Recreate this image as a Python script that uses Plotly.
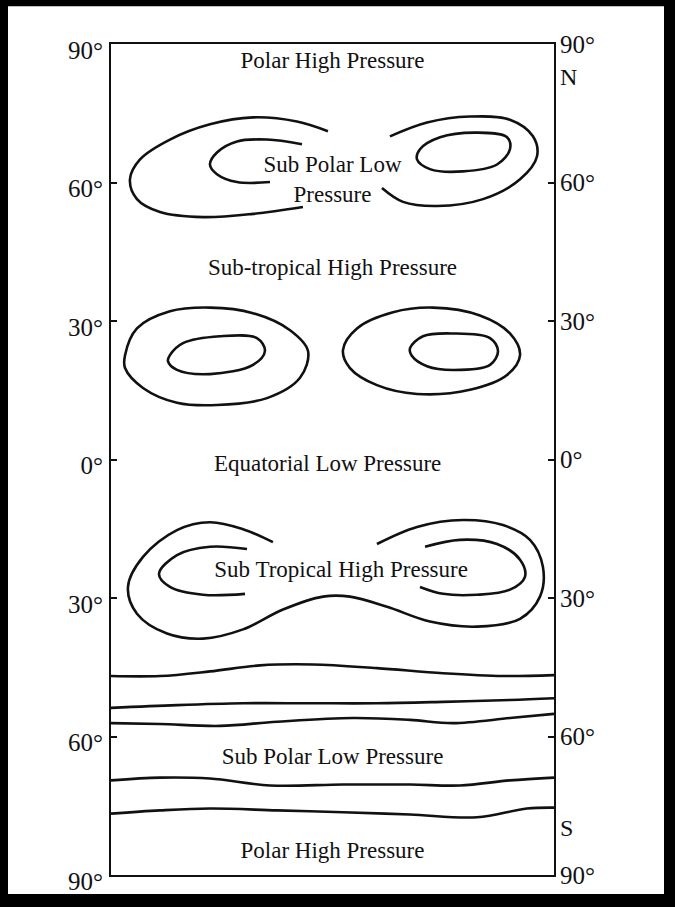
import plotly.graph_objects as go

# ---------------- data ----------------
lat_ticks = [90, 60, 30, 0, -30, -60, -90]
lat_tick_text = ["90°", "60°", "30°", "0°", "30°", "60°", "90°"]

hemi_labels = ["N", "S"]
hemi_lat = [82.9, -79.9]

zone_names = ["Polar High Pressure", "Sub Polar Low<br>Pressure", "Sub-tropical High Pressure",
              "Equatorial Low Pressure", "Sub Tropical High Pressure", "Sub Polar Low Pressure",
              "Polar High Pressure"]
zone_lon = [0, 0, 0, -4, 7, 0, 0]
zone_lat = [86.1, 60.3, 41.3, -1.3, -24.3, -64.8, -85.0]

# Northern sub-polar low isobars
np_left_outer_lon = [-3.7, -28.9, -64.6, -99.6, -132.1, -156.4, -164.6, -158.9, -140.2, -105.2, -64.6, -24.0]
np_left_outer_lat = [71.1, 73.2, 74.1, 72.6, 69.3, 65.0, 60.7, 56.4, 53.6, 52.5, 53.2, 54.7]
np_left_inner_lon = [-24.8, -53.2, -77.6, -93.9, -99.6, -93.9, -77.6, -50.8]
np_left_inner_lat = [68.3, 69.3, 68.9, 66.5, 63.9, 61.8, 60.1, 60.1]
np_right_outer_lon = [46.7, 76.8, 111.7, 144.2, 162.9, 166.2, 152.4, 122.3, 84.9, 57.3, 40.2]
np_right_outer_lat = [70.0, 73.0, 74.3, 73.6, 70.0, 65.7, 60.7, 56.4, 54.9, 55.8, 58.8]
np_right_inner_lon = [71.1, 87.4, 117.4, 141.8, 144.2, 133.7, 106.0, 79.2, 68.7, 71.1]
np_right_inner_lat = [67.2, 69.8, 70.8, 69.8, 67.2, 63.9, 62.4, 62.9, 65.0, 67.2]

# Northern sub-tropical high isobars
nt_left_outer_lon = [-168.6, -158.9, -132.1, -99.6, -64.6, -34.5, -19.9, -26.4, -53.2, -93.9, -126.4, -154.0, -168.6, -168.6]
nt_left_outer_lat = [22.6, 28.4, 32.1, 32.9, 31.7, 28.0, 23.5, 17.7, 13.3, 11.8, 12.3, 15.5, 19.8, 22.6]
nt_left_inner_lon = [-132.1, -121.5, -91.4, -61.4, -54.9, -64.6, -99.6, -126.4, -133.7, -132.1]
nt_left_inner_lat = [22.6, 25.2, 26.7, 26.3, 23.5, 20.5, 18.5, 19.4, 21.3, 22.6]
nt_right_outer_lon = [8.5, 19.9, 49.2, 81.7, 119.8, 144.2, 152.4, 141.8, 111.7, 68.7, 36.1, 14.2, 8.5]
nt_right_outer_lat = [23.7, 28.4, 31.9, 32.9, 31.2, 27.3, 22.6, 18.3, 15.1, 14.2, 16.1, 19.8, 23.7]
nt_right_inner_lon = [63.0, 73.5, 97.9, 128.0, 134.5, 128.0, 97.9, 76.8, 64.6, 63.0]
nt_right_inner_lat = [24.1, 26.7, 27.3, 26.3, 23.5, 20.5, 19.4, 20.2, 22.4, 24.1]

# Southern sub-tropical high isobars
st_outer_lon = [-48.4, -72.7, -99.6, -126.4, -154.0, -166.2, -158.9, -134.5, -105.2, -72.7, -40.2, -7.7,
                14.2, 44.3, 79.2, 117.4, 152.4, 168.6, 171.0, 160.5, 138.5, 106.0, 68.7, 36.1]
st_outer_lat = [-17.9, -15.1, -13.6, -15.3, -21.1, -27.6, -33.4, -37.7, -38.8, -36.8, -32.5, -29.7,
                -29.7, -31.9, -35.1, -36.2, -34.5, -29.7, -23.3, -17.4, -14.2, -13.1, -14.6, -18.3]
st_left_inner_lon = [-69.5, -99.6, -126.4, -141.0, -132.1, -105.2, -71.1]
st_left_inner_lat = [-19.4, -18.9, -20.7, -24.8, -27.6, -29.3, -29.1]
st_right_inner_lon = [75.2, 103.6, 133.7, 152.4, 156.4, 144.2, 117.4, 89.8, 71.1]
st_right_inner_lat = [-18.9, -17.4, -18.3, -21.7, -25.4, -28.2, -29.3, -29.1, -27.6]

# Southern belt isobars (continuous lines)
sa_lon = [-180, -140.2, -99.6, -58.9, -15.9, 36.1, 89.8, 138.5, 180]
sa_lat = [-46.9, -46.9, -45.9, -44.6, -44.4, -45.2, -46.3, -46.9, -46.7]
sb_lon = [-180, -126.4, -72.7, -18.3, 36.1, 89.8, 144.2, 180]
sb_lat = [-53.8, -53.2, -52.8, -52.8, -52.8, -52.5, -52.1, -51.7]
sc_lon = [-180, -140.2, -91.4, -45.1, 16.6, 63.0, 97.9, 144.2, 180]
sc_lat = [-57.1, -57.3, -57.7, -56.8, -56.0, -56.4, -57.1, -56.0, -55.1]
sd_lon = [-180, -140.2, -99.6, -50.8, 8.5, 63.0, 103.6, 144.2, 180]
sd_lat = [-69.5, -68.9, -69.1, -70.6, -70.4, -70.4, -70.6, -69.5, -68.9]
se_lon = [-180, -140.2, -99.6, -45.1, 8.5, 63.0, 117.4, 158.0, 180]
se_lat = [-76.7, -76.0, -75.6, -76.0, -76.4, -76.9, -77.5, -75.6, -75.4]

curves = [
    (np_left_outer_lon, np_left_outer_lat), (np_left_inner_lon, np_left_inner_lat),
    (np_right_outer_lon, np_right_outer_lat), (np_right_inner_lon, np_right_inner_lat),
    (nt_left_outer_lon, nt_left_outer_lat), (nt_left_inner_lon, nt_left_inner_lat),
    (nt_right_outer_lon, nt_right_outer_lat), (nt_right_inner_lon, nt_right_inner_lat),
    (st_outer_lon, st_outer_lat), (st_left_inner_lon, st_left_inner_lat),
    (st_right_inner_lon, st_right_inner_lat),
    (sa_lon, sa_lat), (sb_lon, sb_lat), (sc_lon, sc_lat), (sd_lon, sd_lat), (se_lon, se_lat),
]

# ---------------- figure ----------------
INK = "#111111"
FONT = "Liberation Serif"

fig = go.Figure()
for lon, lat in curves:
    fig.add_trace(go.Scatter(x=lon, y=lat, mode="lines",
                             line=dict(color=INK, width=2.6, shape="spline", smoothing=1.0),
                             hoverinfo="skip", showlegend=False))

fig.add_trace(go.Scatter(x=zone_lon, y=zone_lat, mode="text", text=zone_names,
                         textfont=dict(family=FONT, size=23, color=INK),
                         hoverinfo="skip", showlegend=False))

# invisible trace to activate the right-hand latitude axis
fig.add_trace(go.Scatter(x=[0], y=[0], yaxis="y2", mode="markers",
                         marker=dict(opacity=0), hoverinfo="skip", showlegend=False))

for name, la in zip(hemi_labels, hemi_lat):
    fig.add_annotation(text=name, x=1.0, xref="paper", y=la, yref="y",
                       xanchor="left", xshift=4, showarrow=False,
                       font=dict(family=FONT, size=24, color=INK))

W, H = 675, 907
L, R, T, B = 111, 121, 44, 27
pw, ph = W - L - R, H - T - B

def px_x(p):
    return (p - L) / pw

def px_y(p):
    return (H - B - p) / ph

# white page inside the black scan frame
fig.add_shape(type="rect", xref="paper", yref="paper", layer="below",
              x0=px_x(8), x1=px_x(664), y0=px_y(899), y1=px_y(6),
              fillcolor="white", line=dict(width=0))

fig.update_layout(
    width=W, height=H,
    margin=dict(l=L, r=R, t=T, b=B, pad=0),
    paper_bgcolor="black", plot_bgcolor="white",
    xaxis=dict(range=[-180, 180], showgrid=False, zeroline=False, showticklabels=False,
               ticks="", showline=True, mirror=True, linecolor=INK, linewidth=2),
    yaxis=dict(range=[-90, 90], showgrid=False, zeroline=False, side="left",
               tickvals=lat_ticks, ticktext=lat_tick_text, ticks="inside", ticklen=6,
               tickwidth=2, tickcolor=INK, showline=True, mirror=True, linecolor=INK,
               linewidth=2, ticklabelshift=6, ticklabelstandoff=1,
               tickfont=dict(family=FONT, size=25, color=INK)),
    yaxis2=dict(range=[-90, 90], overlaying="y", side="right", showgrid=False,
                zeroline=False, tickvals=lat_ticks, ticktext=lat_tick_text,
                ticks="inside", ticklen=6, tickwidth=2, tickcolor=INK,
                showline=False, ticklabelstandoff=5,
                tickfont=dict(family=FONT, size=25, color=INK)),
    showlegend=False,
)

fig.write_html("out.html", config={"displayModeBar": False},
               post_script="document.body.style.margin='0';")
